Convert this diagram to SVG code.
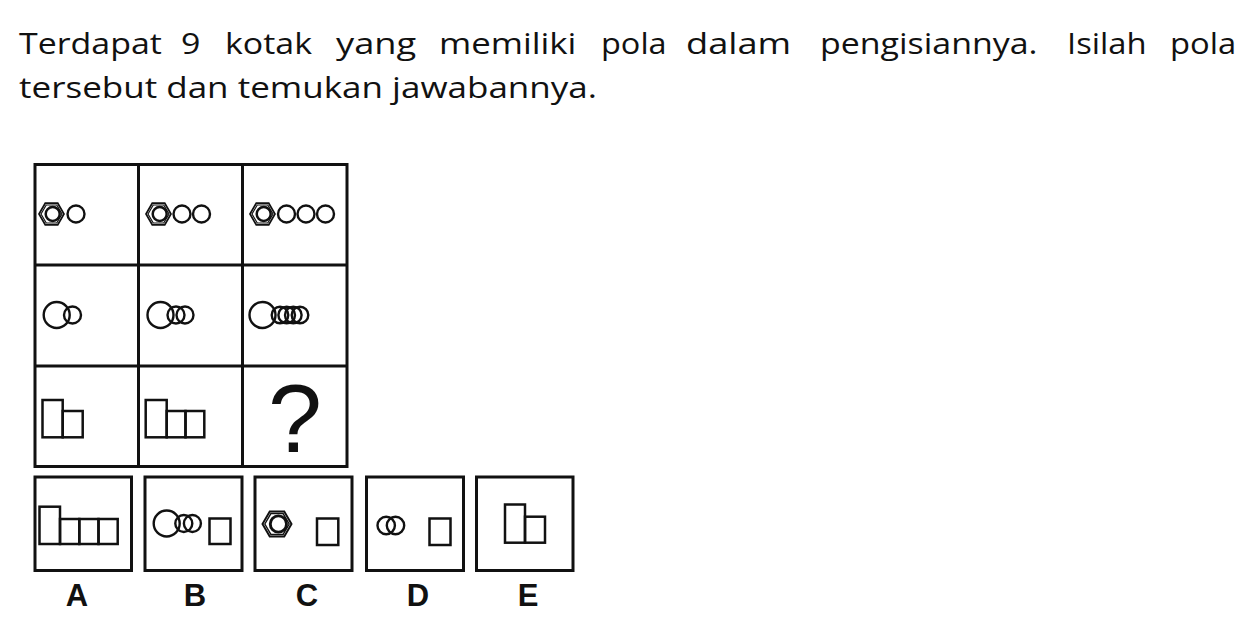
<svg xmlns="http://www.w3.org/2000/svg" xmlns:xlink="http://www.w3.org/1999/xlink" width="1255" height="634" viewBox="0 0 1255 634">
<style>
.t{font-family:"Open Sans","Noto Sans","Liberation Sans",sans-serif;font-size:29px;fill:#111;}
.s{fill:none;stroke:#111;}
.grid{fill:none;stroke:#111;stroke-width:3;}
.shape{fill:none;stroke:#111;stroke-width:2.5;}
.c{fill:none;stroke:#111;stroke-width:2.4;}
.lbl{font-family:"Liberation Sans",Arial,sans-serif;font-weight:bold;font-size:31px;fill:#111;text-anchor:middle;}
.q{font-family:"Liberation Sans",Arial,sans-serif;font-size:97px;fill:#111;text-anchor:middle;}
</style>
<defs>
<g id="hex">
<polygon class="s" stroke-width="1.7" points="-12.5,0 -6.25,-10.8 6.25,-10.8 12.5,0 6.25,10.8 -6.25,10.8"/>
<polygon class="s" stroke-width="1.2" points="-10.5,0 -5.25,-9 5.25,-9 10.5,0 5.25,9 -5.25,9"/>
<circle class="s" stroke-width="2.5" cx="1.2" cy="0" r="7"/>
</g>
</defs>
<rect width="1255" height="634" fill="#fff"/>
<g id="question-text">
<text class="t" transform="translate(19 54) scale(1.17 1)">Terdapat</text>
<text class="t" transform="translate(181 54) scale(1.17 1)">9</text>
<text class="t" transform="translate(225 54) scale(1.17 1)">kotak</text>
<text class="t" transform="translate(336 54) scale(1.25 1)">yang</text>
<text class="t" transform="translate(439 54) scale(1.2 1)">memiliki</text>
<text class="t" transform="translate(601 54) scale(1.12 1)">pola</text>
<text class="t" transform="translate(686 54) scale(1.25 1)">dalam</text>
<text class="t" transform="translate(820 54) scale(1.17 1)">pengisiannya.</text>
<text class="t" transform="translate(1067 54) scale(1.13 1)">Isilah</text>
<text class="t" transform="translate(1170 54) scale(1.13 1)">pola</text>
<text class="t" x="19" y="98" textLength="578" lengthAdjust="spacingAndGlyphs">tersebut dan temukan jawabannya.</text>
</g>
<g id="grid">
<rect class="grid" x="35" y="164.5" width="312" height="302"/>
<line class="grid" x1="138.5" y1="164.5" x2="138.5" y2="466.5"/>
<line class="grid" x1="242.5" y1="164.5" x2="242.5" y2="466.5"/>
<line class="grid" x1="35" y1="265" x2="347" y2="265"/>
<line class="grid" x1="35" y1="366" x2="347" y2="366"/>
</g>
<g id="cell-1-1">
<use xlink:href="#hex" href="#hex" x="51.5" y="214"/>
<circle class="c" cx="76" cy="214" r="8.5"/>
</g>
<g id="cell-1-2">
<use xlink:href="#hex" href="#hex" x="158.5" y="214"/>
<circle class="c" cx="182" cy="214" r="8.5"/>
<circle class="c" cx="201.5" cy="214" r="8.5"/>
</g>
<g id="cell-1-3">
<use xlink:href="#hex" href="#hex" x="262.5" y="214"/>
<circle class="c" cx="286.5" cy="214" r="8.5"/>
<circle class="c" cx="306" cy="214" r="8.5"/>
<circle class="c" cx="325.5" cy="214" r="8.5"/>
</g>
<g id="cell-2-1">
<circle class="c" cx="56.7" cy="315" r="13"/>
<circle class="c" cx="72.5" cy="315" r="8.5"/>
</g>
<g id="cell-2-2">
<circle class="c" cx="160.5" cy="315" r="13"/>
<circle class="c" cx="176" cy="315" r="8.5"/>
<circle class="c" cx="185" cy="315" r="8.5"/>
</g>
<g id="cell-2-3">
<circle class="c" cx="262.5" cy="315" r="13"/>
<circle class="c" cx="280" cy="315" r="8.3"/>
<circle class="c" cx="286.7" cy="315" r="8.3"/>
<circle class="c" cx="293.3" cy="315" r="8.3"/>
<circle class="c" cx="300" cy="315" r="8.3"/>
</g>
<g id="cell-3-1">
<rect class="shape" x="42.5" y="400" width="20.2" height="37.3"/>
<rect class="shape" x="62.7" y="411" width="20" height="26.3"/>
</g>
<g id="cell-3-2">
<rect class="shape" x="145.7" y="400" width="21" height="37.3"/>
<rect class="shape" x="166.7" y="411" width="18.8" height="26.3"/>
<rect class="shape" x="185.5" y="411" width="18.8" height="26.3"/>
</g>
<g id="cell-3-3">
<text class="q" x="295" y="452">?</text>
</g>
<g id="option-A">
<rect class="grid" x="35" y="477" width="96.5" height="93.5"/>
<rect class="shape" x="39.5" y="506.7" width="20.5" height="37.3"/>
<rect class="shape" x="60" y="519" width="19.3" height="25"/>
<rect class="shape" x="79.3" y="519" width="19.2" height="25"/>
<rect class="shape" x="98.5" y="519" width="19.2" height="25"/>
<text class="lbl" x="77" y="606">A</text>
</g>
<g id="option-B">
<rect class="grid" x="145" y="477" width="97" height="93.5"/>
<circle class="c" cx="166.7" cy="523.5" r="13"/>
<circle class="c" cx="183.8" cy="523.5" r="8.5"/>
<circle class="c" cx="192.4" cy="523.5" r="8.5"/>
<rect class="shape" x="209.5" y="518.5" width="21" height="25.5"/>
<text class="lbl" x="195" y="606">B</text>
</g>
<g id="option-C">
<rect class="grid" x="255" y="477" width="97" height="93.5"/>
<use xlink:href="#hex" href="#hex" transform="translate(277 524) scale(1.16)"/>
<rect class="shape" x="317" y="518.5" width="21.3" height="26.5"/>
<text class="lbl" x="307" y="606">C</text>
</g>
<g id="option-D">
<rect class="grid" x="366.5" y="477" width="97" height="93.5"/>
<circle class="c" cx="386.2" cy="525.5" r="8.7"/>
<circle class="c" cx="395.5" cy="525.5" r="8.7"/>
<rect class="shape" x="429.5" y="518.5" width="21" height="26.5"/>
<text class="lbl" x="418" y="606">D</text>
</g>
<g id="option-E">
<rect class="grid" x="476.5" y="477" width="96.5" height="93.5"/>
<rect class="shape" x="505" y="504.5" width="20" height="38.2"/>
<rect class="shape" x="525" y="516.7" width="20" height="26"/>
<text class="lbl" x="528" y="606">E</text>
</g>
<g id="connectors"></g>
</svg>
